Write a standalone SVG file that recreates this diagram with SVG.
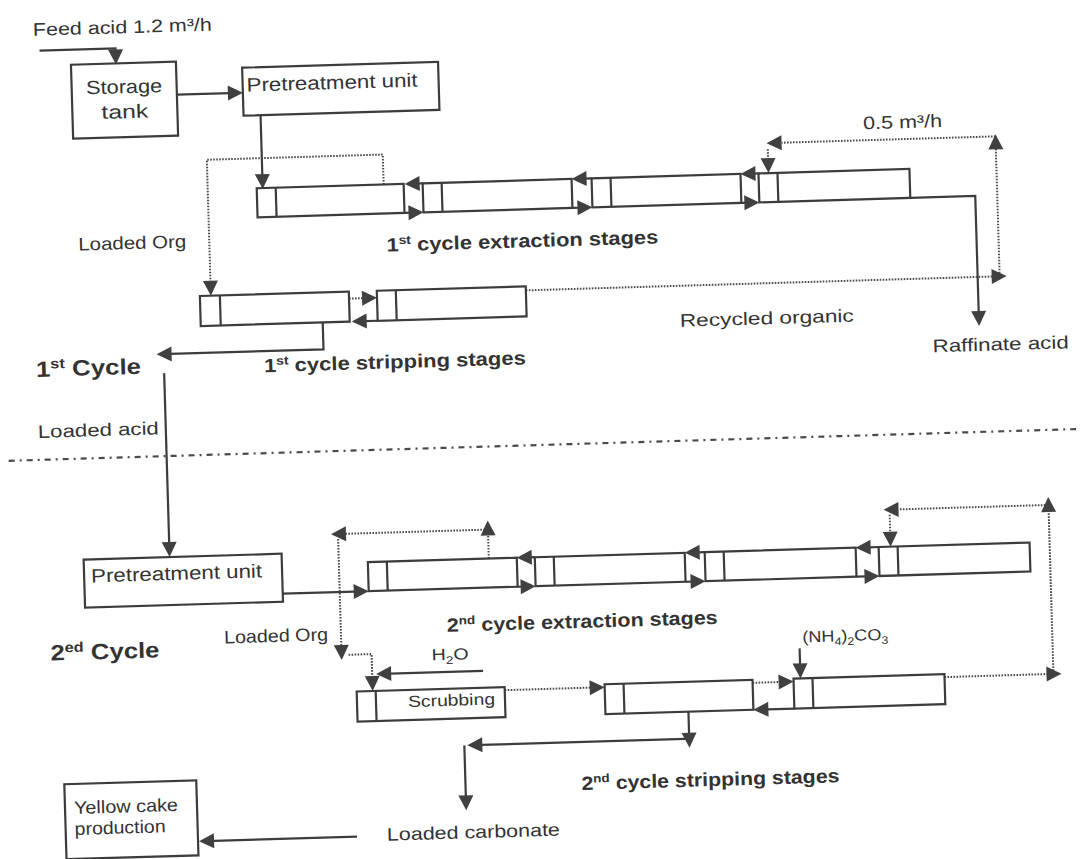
<svg xmlns="http://www.w3.org/2000/svg" width="1081" height="859" viewBox="0 0 1081 859">
<defs>
<style>
.box{fill:none;stroke:#3c3c3c;stroke-width:2.2}
.ln{fill:none;stroke:#3c3c3c;stroke-width:2.2}
.dot{fill:none;stroke:#4a4a4a;stroke-width:2;stroke-dasharray:1.6 1.4}
.dd{fill:none;stroke:#4a4a4a;stroke-width:2.2;stroke-dasharray:6 5 2 5}
.ah{fill:#404040}
.t{font-family:"Liberation Sans",Arial,sans-serif;font-size:18px;fill:#333}
.s{font-size:16px}
.m{font-size:19px}
.b{font-weight:bold;font-size:19px}
.c{font-weight:bold;font-size:22px}
</style>
<path id="ah" d="M0,0 L-15,-7.5 L-15,7.5 Z" class="ah"/>
</defs>
<rect width="1081" height="859" fill="#ffffff"/>
<g transform="rotate(-1.7 540 430)">
<g id="connectors">
<path class="ln" d="M51,36 H127 V40"/>
<use href="#ah" transform="translate(127 52) rotate(90)"/>
<path class="ln" d="M187,84 H240"/>
<use href="#ah" transform="translate(253 84)"/>
<path class="ln" d="M270,107 V168"/>
<use href="#ah" transform="translate(270 181) rotate(90)"/>
<path class="ln" d="M430,180 H425 M411,209 H418"/>
<use href="#ah" transform="translate(412 180) rotate(180)"/>
<use href="#ah" transform="translate(430 209)"/>
<path class="ln" d="M599,180 H592 M579,209 H586"/>
<use href="#ah" transform="translate(579 180) rotate(180)"/>
<use href="#ah" transform="translate(599 209)"/>
<path class="ln" d="M766,180 H761 M748,209 H753"/>
<use href="#ah" transform="translate(748 180) rotate(180)"/>
<use href="#ah" transform="translate(766 209)"/>
<path class="ln" d="M917,209 H982 V326"/>
<use href="#ah" transform="translate(982 339) rotate(90)"/>
<path class="ln" d="M381,316 H368"/>
<use href="#ah" transform="translate(355 316) rotate(180)"/>
<path class="ln" d="M326,316 V343 H172"/>
<use href="#ah" transform="translate(159 343) rotate(180)"/>
<path class="ln" d="M166,362 V533"/>
<use href="#ah" transform="translate(166 546) rotate(90)"/>
<path class="ln" d="M278,586 H350"/>
<use href="#ah" transform="translate(364 586)"/>
<path class="ln" d="M531,557 H526 M513,586 H518"/>
<use href="#ah" transform="translate(513 557) rotate(180)"/>
<use href="#ah" transform="translate(531 586)"/>
<path class="ln" d="M701,557 H694 M681,586 H688"/>
<use href="#ah" transform="translate(681 557) rotate(180)"/>
<use href="#ah" transform="translate(701 586)"/>
<path class="ln" d="M875,557 H865 M852,586 H862"/>
<use href="#ah" transform="translate(852 557) rotate(180)"/>
<use href="#ah" transform="translate(875 586)"/>
<path class="ln" d="M476,669 H383"/>
<use href="#ah" transform="translate(369 669) rotate(180)"/>
<path class="ln" d="M793,656 V673"/>
<use href="#ah" transform="translate(793 686) rotate(90)"/>
<path class="ln" d="M786,716 H759"/>
<use href="#ah" transform="translate(745 716) rotate(180)"/>
<path class="ln" d="M680,716 V739"/>
<use href="#ah" transform="translate(680 752) rotate(90)"/>
<path class="ln" d="M676,743 H472"/>
<use href="#ah" transform="translate(458 743) rotate(180)"/>
<path class="ln" d="M455,743 V795"/>
<use href="#ah" transform="translate(455 808) rotate(90)"/>
<path class="ln" d="M345,831 H202"/>
<use href="#ah" transform="translate(187 831) rotate(180)"/>
<path class="dot" d="M391,180 V150 H215 V272"/>
<use href="#ah" transform="translate(215 286) rotate(90)"/>
<path class="dot" d="M353,293 H367"/>
<use href="#ah" transform="translate(381 293)"/>
<path class="dot" d="M530,290 H997 M1004,290 V162 M1004,150 H790 M776,156 V166"/>
<use href="#ah" transform="translate(1011 290)"/>
<use href="#ah" transform="translate(1004 148) rotate(-90)"/>
<use href="#ah" transform="translate(775 150) rotate(180)"/>
<use href="#ah" transform="translate(776 180) rotate(90)"/>
<path class="dot" d="M485,557 V533 M485,528 H343 M335,533 V640 M342,649 H365 V672"/>
<use href="#ah" transform="translate(485 519) rotate(-90)"/>
<use href="#ah" transform="translate(328 528) rotate(180)"/>
<use href="#ah" transform="translate(335 654) rotate(90)"/>
<use href="#ah" transform="translate(365 686) rotate(90)"/>
<path class="dot" d="M497,689 H583"/>
<use href="#ah" transform="translate(597 689)"/>
<path class="dot" d="M745,689 H772"/>
<use href="#ah" transform="translate(786 689)"/>
<path class="dot" d="M937,689 H1040 M1046,689 V526 M1046,520 H896 M887,525 V543"/>
<use href="#ah" transform="translate(1054 689)"/>
<use href="#ah" transform="translate(1046 512) rotate(-90)"/>
<use href="#ah" transform="translate(881 520) rotate(180)"/>
<use href="#ah" transform="translate(887 557) rotate(90)"/>
<path class="dd" d="M8,445 H1110"/>
</g>
<g id="feed-label"><text class="t" x="45" y="21" textLength="179" lengthAdjust="spacingAndGlyphs">Feed acid 1.2 m³/h</text></g>
<g id="storage-tank">
<rect class="box" x="82" y="51" width="105" height="74"/>
<text class="t m" x="134.5" y="81" text-anchor="middle" textLength="76" lengthAdjust="spacingAndGlyphs">Storage</text>
<text class="t m" x="134.5" y="106" text-anchor="middle" textLength="47" lengthAdjust="spacingAndGlyphs">tank</text>
</g>
<g id="pretreatment-1">
<rect class="box" x="253" y="59" width="196" height="48"/>
<text class="t m" x="257" y="83" textLength="171" lengthAdjust="spacingAndGlyphs">Pretreatment unit</text>
</g>
<g id="extraction-1">
<rect class="box" x="264" y="180" width="147" height="29"/><path class="ln" d="M283,180 V209"/>
<rect class="box" x="430" y="180" width="149" height="29"/><path class="ln" d="M449,180 V209"/>
<rect class="box" x="599" y="180" width="149" height="29"/><path class="ln" d="M618,180 V209"/>
<rect class="box" x="766" y="180" width="151" height="29"/><path class="ln" d="M785,180 V209"/>
<text class="t b" x="392" y="247" textLength="272" lengthAdjust="spacingAndGlyphs">1<tspan font-size="12" dy="-7">st</tspan><tspan dy="7"> cycle extraction stages</tspan></text>
</g>
<g id="stripping-1">
<rect class="box" x="204" y="286" width="149" height="30"/><path class="ln" d="M224,286 V316"/>
<rect class="box" x="381" y="286" width="149" height="30"/><path class="ln" d="M400,286 V316"/>
<text class="t b" x="266" y="364" textLength="262" lengthAdjust="spacingAndGlyphs">1<tspan font-size="12" dy="-7">st</tspan><tspan dy="7"> cycle stripping stages</tspan></text>
</g>
<g id="labels-1">
<text class="t" x="872" y="139" textLength="79" lengthAdjust="spacingAndGlyphs">0.5 m³/h</text>
<text class="t" x="84" y="237" textLength="108" lengthAdjust="spacingAndGlyphs">Loaded Org</text>
<text class="t" x="683" y="331" textLength="174" lengthAdjust="spacingAndGlyphs">Recycled organic</text>
<text class="t" x="935" y="364" textLength="136" lengthAdjust="spacingAndGlyphs">Raffinate acid</text>
<text class="t c" x="38" y="362" textLength="105" lengthAdjust="spacingAndGlyphs">1<tspan font-size="14" dy="-8">st</tspan><tspan dy="8"> Cycle</tspan></text>
<text class="t" x="38" y="423" textLength="121" lengthAdjust="spacingAndGlyphs">Loaded acid</text>
</g>
<g id="pretreatment-2">
<rect class="box" x="80" y="546" width="198" height="48"/>
<text class="t m" x="87" y="569" textLength="171" lengthAdjust="spacingAndGlyphs">Pretreatment unit</text>
</g>
<g id="extraction-2">
<rect class="box" x="364" y="557" width="149" height="29"/><path class="ln" d="M383,557 V586"/>
<rect class="box" x="531" y="557" width="150" height="29"/><path class="ln" d="M550,557 V586"/>
<rect class="box" x="701" y="557" width="151" height="29"/><path class="ln" d="M720,557 V586"/>
<rect class="box" x="875" y="557" width="151" height="29"/><path class="ln" d="M894,557 V586"/>
<text class="t b" x="441" y="629" textLength="271" lengthAdjust="spacingAndGlyphs">2<tspan font-size="12" dy="-7">nd</tspan><tspan dy="7"> cycle extraction stages</tspan></text>
</g>
<g id="scrubbing">
<rect class="box" x="349" y="686" width="148" height="30"/><path class="ln" d="M368,686 V716"/>
<text class="t s" x="400" y="703" textLength="87" lengthAdjust="spacingAndGlyphs">Scrubbing</text>
</g>
<g id="stripping-2">
<rect class="box" x="597" y="686" width="148" height="30"/><path class="ln" d="M616,686 V716"/>
<rect class="box" x="786" y="686" width="151" height="30"/><path class="ln" d="M805,686 V716"/>
<text class="t b" x="571" y="791" textLength="258" lengthAdjust="spacingAndGlyphs">2<tspan font-size="12" dy="-7">nd</tspan><tspan dy="7"> cycle stripping stages</tspan></text>
</g>
<g id="labels-2">
<text class="t" x="218" y="634" font-size="17" textLength="104" lengthAdjust="spacingAndGlyphs">Loaded Org</text>
<text class="t c" x="44" y="646" textLength="109" lengthAdjust="spacingAndGlyphs">2<tspan font-size="14" dy="-8">ed</tspan><tspan dy="8"> Cycle</tspan></text>
<text class="t s" x="425" y="657" textLength="37" lengthAdjust="spacingAndGlyphs">H<tspan font-size="11" dy="4">2</tspan><tspan dy="-4">O</tspan></text>
<text class="t s" x="796" y="650" textLength="86" lengthAdjust="spacingAndGlyphs">(NH<tspan font-size="11" dy="4">4</tspan><tspan dy="-4">)</tspan><tspan font-size="11" dy="4">2</tspan><tspan dy="-4">CO</tspan><tspan font-size="11" dy="4">3</tspan></text>
<text class="t" x="375" y="836" textLength="173" lengthAdjust="spacingAndGlyphs">Loaded carbonate</text>
</g>
<g id="yellow-cake">
<rect class="box" x="54" y="770" width="132" height="75"/>
<text class="t" x="63" y="800" font-size="17" textLength="104" lengthAdjust="spacingAndGlyphs">Yellow cake</text>
<text class="t" x="63" y="821" font-size="17" textLength="91" lengthAdjust="spacingAndGlyphs">production</text>
</g>
</g>
</svg>
